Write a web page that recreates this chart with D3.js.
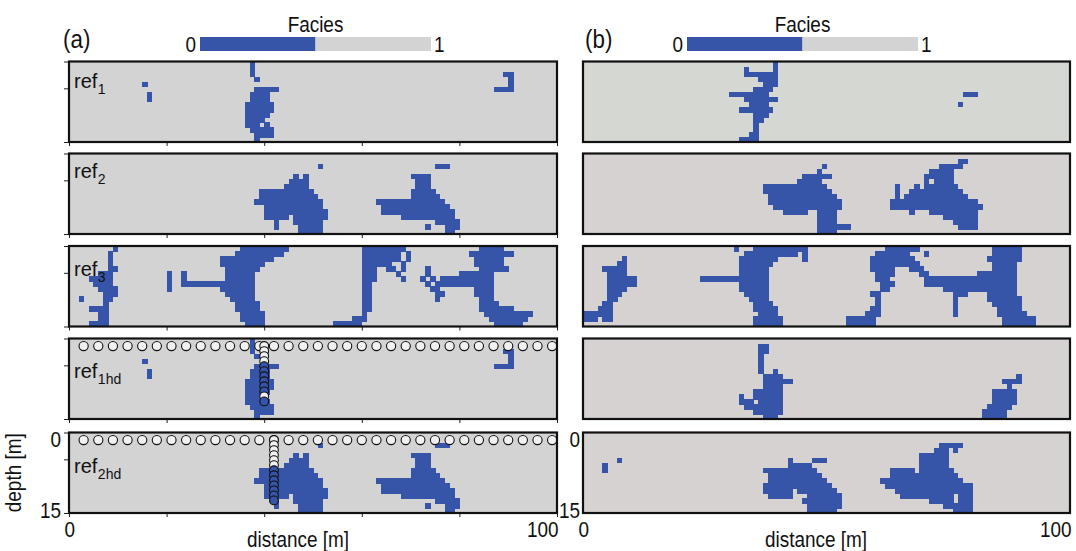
<!DOCTYPE html>
<html>
<head>
<meta charset="utf-8">
<script src="https://cdn.jsdelivr.net/npm/d3@7"></script>
<style>
  body { margin: 0; background: #fff; }
  svg text { font-family: "Liberation Sans Narrow", "Liberation Sans", Arial, sans-serif; fill: #111; }
</style>
</head>
<body>
<svg width="1076" height="551"></svg>
<script>
// facies 0 (blue) cells of each field, as [row, firstCol, lastCol] on a 100 x 16 grid
var ref1 = [[0,37,37],[1,37,37],[2,37,37],[2,89,90],[3,38,38],[3,90,90],[4,15,15],[4,90,90],
  [5,38,42],[5,87,90],[6,16,16],[6,37,40],[7,16,16],[7,37,40],[8,36,41],[9,36,41],[10,36,40],
  [11,36,39],[12,36,38],[12,40,40],[13,37,41],[14,38,41],[15,38,38]];

var ref2 = [[2,51,51],[2,75,77],[4,46,46],[4,48,48],[4,70,73],[5,45,48],[5,71,73],[6,44,48],[6,71,73],
  [7,39,49],[7,70,74],[8,39,50],[8,70,75],[9,38,51],[9,63,76],[10,40,51],[10,64,77],[11,40,52],[11,64,78],
  [12,40,44],[12,46,52],[12,68,78],[13,42,42],[13,46,51],[13,75,79],[14,42,42],[14,47,51],[14,73,73],
  [14,77,79],[15,47,51],[15,77,78]];

var ref3 = [[0,9,9],[0,35,44],[0,60,68],[0,84,88],
  [1,8,8],[1,34,43],[1,60,67],[1,69,69],[1,82,90],
  [2,8,8],[2,31,41],[2,60,67],[2,69,69],[2,83,88],
  [3,8,8],[3,31,39],[3,60,65],[3,68,68],[3,83,88],
  [4,8,9],[4,32,38],[4,60,62],[4,65,66],[4,68,68],[4,73,73],[4,84,89],
  [5,6,8],[5,20,20],[5,23,23],[5,32,37],[5,60,62],[5,67,67],[5,73,73],[5,80,86],
  [6,4,8],[6,20,20],[6,23,23],[6,32,37],[6,60,62],[6,68,68],[6,72,72],[6,74,74],[6,76,86],
  [7,5,8],[7,20,20],[7,23,37],[7,60,61],[7,73,73],[7,75,86],
  [8,6,9],[8,20,20],[8,31,37],[8,60,61],[8,74,75],[8,83,86],
  [9,7,9],[9,32,37],[9,60,61],[9,75,76],[9,83,86],
  [10,2,2],[10,7,8],[10,33,37],[10,60,61],[10,75,75],[10,84,86],
  [11,7,7],[11,34,38],[11,60,61],[11,84,87],
  [12,4,7],[12,34,38],[12,60,61],[12,84,90],
  [13,6,7],[13,35,39],[13,60,60],[13,85,94],
  [14,6,7],[14,35,39],[14,58,60],[14,86,93],
  [15,4,7],[15,36,39],[15,54,59],[15,87,92]];

var sim1 = [[0,39,39],[1,33,33],[1,39,39],[2,33,39],[3,36,39],[4,37,39],[5,35,38],[6,30,37],[6,78,80],
  [7,33,39],[8,34,37],[8,77,77],[9,32,38],[10,35,37],[11,35,36],[12,35,35],[13,35,35],[14,34,35],[15,32,35]];

var sim2 = [[1,77,78],[2,49,49],[2,73,77],[3,48,48],[3,71,75],[4,45,50],[4,70,75],
  [5,44,48],[5,70,70],[5,72,75],[6,37,49],[6,64,64],[6,68,68],[6,70,76],
  [7,37,50],[7,64,64],[7,67,77],[8,38,51],[8,64,64],[8,66,78],[9,38,52],[9,63,80],[10,39,52],[10,63,81],
  [11,41,45],[11,48,51],[11,67,67],[11,71,80],[12,48,51],[12,74,80],[13,48,51],[13,76,80],
  [14,48,54],[14,77,80],[15,48,51]];

var sim3 = [[0,31,31],[0,35,45],[0,62,68],[0,84,89],
  [1,33,43],[1,45,45],[1,60,66],[1,70,70],[1,84,89],
  [2,8,8],[2,32,39],[2,45,45],[2,59,67],[2,83,89],
  [3,7,8],[3,32,38],[3,59,68],[3,84,88],
  [4,4,8],[4,32,37],[4,59,63],[4,67,69],[4,84,88],
  [5,5,8],[5,32,37],[5,60,63],[5,69,70],[5,81,88],
  [6,5,10],[6,24,37],[6,60,62],[6,70,88],
  [7,5,10],[7,32,37],[7,61,63],[7,70,88],
  [8,5,8],[8,32,37],[8,61,62],[8,74,88],
  [9,5,7],[9,33,37],[9,59,60],[9,76,78],[9,83,88],
  [10,5,6],[10,34,37],[10,60,60],[10,76,76],[10,83,89],
  [11,4,5],[11,35,38],[11,60,60],[11,76,76],[11,84,89],
  [12,3,5],[12,35,39],[12,59,60],[12,76,76],[12,85,89],
  [13,0,5],[13,36,39],[13,58,60],[13,76,76],[13,85,90],
  [14,0,2],[14,4,5],[14,35,40],[14,54,59],[14,86,92],
  [15,35,40],[15,54,59],[15,86,92]];

var sim4 = [[1,36,37],[2,36,37],[3,36,36],[4,36,36],[5,36,36],[6,36,36],[6,39,39],
  [7,37,40],[7,89,89],[8,37,42],[8,86,89],[9,37,40],[9,87,87],[10,35,40],[10,84,88],
  [11,32,32],[11,35,40],[11,84,88],[12,32,34],[12,36,40],[12,84,88],[13,33,40],[13,83,87],
  [14,35,40],[14,82,86],[15,37,39],[15,82,86]];

var sim5 = [[2,73,77],[3,72,74],[3,76,76],[4,69,74],[5,7,7],[5,42,42],[5,47,49],[5,69,74],
  [6,4,4],[6,42,46],[6,69,74],[7,4,4],[7,37,47],[7,63,67],[7,69,75],[8,38,48],[8,63,76],
  [9,38,49],[9,61,77],[10,37,50],[10,62,79],[11,37,42],[11,44,51],[11,64,79],
  [12,38,42],[12,46,52],[12,65,75],[12,77,79],[13,45,52],[13,71,75],[13,77,79],
  [14,46,52],[14,74,79],[15,46,51],[15,76,79]];

// hard data: surface points (distance, m) and the two wells (distance, rows)
var surfaceDist = [3,6,9,12,15,18,21,24,27,30,33,36,39,42,45,48,51,54,57,60,63,66,69,72,75,78,81,84,87,90,93,96,99];
var well1Dist = 40, well1Rows = [1,2,3,4,5,6,7,8,9,10,11,12];
var well2Dist = 42, well2Rows = [1,2,3,4,5,6,7,8,9,10,11,12,13];

var labelsA = [["ref","1"],["ref","2"],["ref","3"],["ref","1hd"],["ref","2hd"]];
var fieldsA = [ref1, ref2, ref3, ref1, ref2];
var fieldsB = [sim1, sim2, sim3, sim4, sim5];
var distTicks = [0,20,40,60,80,100];
var depthTicks = [0,5,15];
var faciesValues = ["0","1"];

var blue = "#3654a8", greyA = "#d3d3d3", greyB = "#d7d2d2", greyB1 = "#d4d7d2";
var faciesColor = d3.scaleOrdinal().domain(faciesValues).range([blue, greyA]);

var svg = d3.select("svg");
var panelTops = [61.5, 153.5, 246, 338.5, 432.5], panelH = 80.5;
var xA = d3.scaleLinear().domain([0,100]).range([69,557]);
var xB = d3.scaleLinear().domain([0,100]).range([583,1070]);

// the figure uses a condensed sans face: narrow a label a little
function narrow(sel, k) {
  sel.each(function() {
    var w = this.getComputedTextLength();
    if (w > 0) d3.select(this).attr("textLength", w * (k || 0.86)).attr("lengthAdjust", "spacingAndGlyphs");
  });
  return sel;
}

function cellSet(runs) {
  var s = new Set();
  runs.forEach(function(r) { for (var c = r[1]; c <= r[2]; c++) s.add(r[0] + "," + c); });
  return s;
}

function drawPanel(x, top, runs, bg) {
  var rowY = d3.scaleLinear().domain([0,16]).range([top, top + panelH]);
  var g = svg.append("g");
  g.append("rect")
    .attr("x", x(0)).attr("y", top)
    .attr("width", x(100) - x(0)).attr("height", panelH)
    .attr("fill", bg);
  g.selectAll("rect.cell")
    .data(runs)
    .join("rect")
    .attr("class", "cell")
    .attr("x", function(d) { return x(d[1]); })
    .attr("y", function(d) { return rowY(d[0]); })
    .attr("width", function(d) { return x(d[2] + 1) - x(d[1]) + 0.5; })
    .attr("height", rowY(1) - rowY(0) + 0.7)
    .attr("shape-rendering", "crispEdges")
    .attr("fill", blue);
  return {g: g, rowY: rowY};
}

function drawHardData(p, x, runs, wellDist, wellRows) {
  var s = cellSet(runs);
  var fill = function(row, dist) { return s.has(row + "," + Math.floor(dist)) ? blue : "#f1f1f1"; };
  p.g.selectAll("circle.surf")
    .data(surfaceDist)
    .join("circle")
    .attr("class", "surf")
    .attr("cx", function(d) { return x(d); })
    .attr("cy", p.rowY(1.5))
    .attr("r", 4.6)
    .attr("fill", function(d) { return fill(1, d); })
    .attr("stroke", "#111").attr("stroke-width", 1.1);
  p.g.selectAll("circle.well")
    .data(wellRows)
    .join("circle")
    .attr("class", "well")
    .attr("cx", x(wellDist))
    .attr("cy", function(d) { return p.rowY(d + 0.5); })
    .attr("r", 4.4)
    .attr("fill", function(d) { return fill(d, wellDist); })
    .attr("stroke", "#111").attr("stroke-width", 1.1);
}

function border(x, top) {
  svg.append("rect")
    .attr("x", x(0)).attr("y", top)
    .attr("width", x(100) - x(0)).attr("height", panelH)
    .attr("fill", "none").attr("stroke", "#111").attr("stroke-width", 2.2);
}

var labelDy = [26.5, 24, 30, 39, 40];

panelTops.forEach(function(top, i) {
  // left column (a)
  var p = drawPanel(xA, top, fieldsA[i], greyA);
  if (i === 3) drawHardData(p, xA, ref1, well1Dist, well1Rows);
  if (i === 4) drawHardData(p, xA, ref2, well2Dist, well2Rows);

  var depth = d3.scaleLinear().domain([0,15]).range([top, top + panelH]);
  var last = i === 4;
  var ya = svg.append("g")
    .attr("transform", "translate(" + xA(0) + ",0)")
    .call(d3.axisLeft(depth).tickValues(depthTicks).tickSize(5).tickPadding(3)
      .tickFormat(function(d) { return last && d !== 5 ? d : ""; }));
  var xa = svg.append("g")
    .attr("transform", "translate(0," + (top + panelH) + ")")
    .call(d3.axisBottom(xA).tickValues(distTicks).tickSize(4).tickPadding(8)
      .tickFormat(function(d) { return last && (d === 0 || d === 100) ? d : ""; }));
  [ya, xa].forEach(function(a) {
    a.select(".domain").remove();
    a.selectAll("line").attr("stroke", "#222");
    a.selectAll("text").style("font-size", "22px").attr("fill", "#111");
    narrow(a.selectAll("text"));
  });
  ya.selectAll("text").attr("dy", function(d) { return d === 0 ? "0.62em" : "0.2em"; });
  xa.selectAll("text")
    .attr("text-anchor", function(d) { return d === 0 ? "start" : "end"; })
    .attr("dx", function(d) { return d === 0 ? -5 : 1; })
    .attr("dy", "0.55em");

  border(xA, top);
  var lab = svg.append("text")
    .attr("x", xA(0) + 5).attr("y", top + labelDy[i])
    .style("font-size", "20px").text(labelsA[i][0]);
  svg.append("text")
    .attr("x", xA(0) + 5 + lab.node().getComputedTextLength() + 0.5)
    .attr("y", top + labelDy[i] + 6)
    .style("font-size", "14px").text(labelsA[i][1]);

  // right column (b)
  drawPanel(xB, top, fieldsB[i], i === 0 ? greyB1 : greyB);
  border(xB, top);
  if (last) {
    var yb = svg.append("g")
      .attr("transform", "translate(" + (xB(0) - 2) + ",0)")
      .call(d3.axisLeft(depth).tickValues([0,15]).tickSize(0).tickPadding(1));
    var xb = svg.append("g")
      .attr("transform", "translate(0," + (top + panelH) + ")")
      .call(d3.axisBottom(xB).tickValues([0,100]).tickSize(0).tickPadding(12));
    [yb, xb].forEach(function(a) {
      a.select(".domain").remove();
      a.selectAll("text").style("font-size", "22px").attr("fill", "#111");
      narrow(a.selectAll("text"));
    });
    yb.selectAll("text").attr("dy", function(d) { return d === 0 ? "0.62em" : "0.2em"; });
    xb.selectAll("text")
      .attr("text-anchor", function(d) { return d === 0 ? "start" : "end"; })
      .attr("dx", function(d) { return d === 0 ? -5 : 1; })
      .attr("dy", "0.55em");
  }
});

// colour bars
function colorbar(x0, x1, tag, tagX) {
  var band = d3.scaleBand().domain(faciesValues).range([x0, x1]);
  svg.selectAll(null)
    .data(faciesValues)
    .join("rect")
    .attr("x", function(d) { return band(d); })
    .attr("y", 37).attr("width", band.bandwidth()).attr("height", 14)
    .attr("fill", function(d) { return faciesColor(d); });
  narrow(svg.append("text").attr("x", x0 - 4).attr("y", 52).attr("text-anchor", "end")
    .style("font-size", "22px").text(faciesValues[0]));
  narrow(svg.append("text").attr("x", x1 + 3).attr("y", 52)
    .style("font-size", "22px").text(faciesValues[1]));
  narrow(svg.append("text").attr("x", (x0 + x1) / 2).attr("y", 32).attr("text-anchor", "middle")
    .style("font-size", "22px").text("Facies"));
  narrow(svg.append("text").attr("x", tagX).attr("y", 48)
    .style("font-size", "26px").text(tag));
}
colorbar(200, 431, "(a)", 63);
colorbar(687, 918, "(b)", 585);

// axis titles
narrow(svg.append("text")
  .attr("transform", "translate(21," + (panelTops[4] + panelH / 2) + ") rotate(-90)")
  .attr("text-anchor", "middle")
  .style("font-size", "22px").text("depth [m]"));
narrow(svg.append("text").attr("x", 298).attr("y", 547).attr("text-anchor", "middle")
  .style("font-size", "22px").text("distance [m]"));
narrow(svg.append("text").attr("x", 816).attr("y", 547).attr("text-anchor", "middle")
  .style("font-size", "22px").text("distance [m]"));
</script>
</body>
</html>
